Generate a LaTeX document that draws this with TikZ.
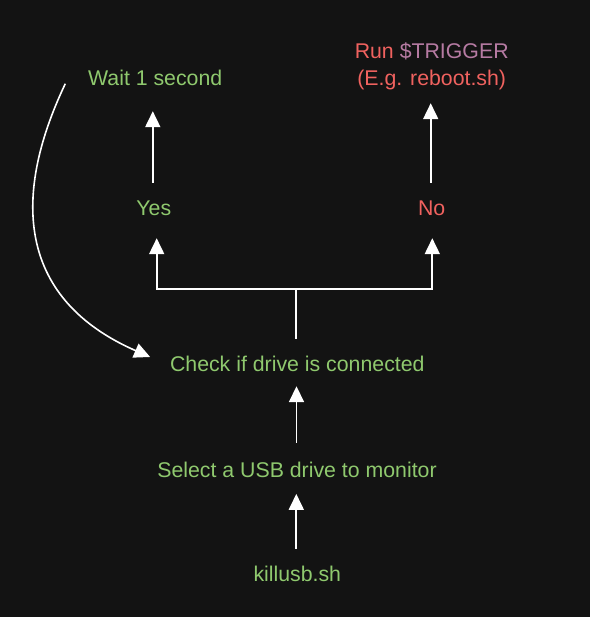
\documentclass[tikz,border=0pt]{standalone}
\usepackage{fontspec}
\setmainfont{Liberation Sans}
\usetikzlibrary{arrows.meta}
\definecolor{bg}{HTML}{131313}
\definecolor{tgreen}{HTML}{8FC96E}
\definecolor{tred}{HTML}{F0625F}
\definecolor{tpurple}{HTML}{B67BA3}
\begin{document}
\begin{tikzpicture}[x=1pt,y=-1pt,
  lbl/.style={inner sep=0pt, anchor=base, text height=15.5pt, text depth=4.5pt, font=\fontsize{21.3}{25}\selectfont},
  ok/.style={lbl,text=tgreen},
  bad/.style={lbl,text=tred},
  wire/.style={draw=white, line width=1.8pt},
  arr/.style={wire, -{Triangle[length=16pt,width=15pt]}}]
\fill[bg] (0,0) rectangle (590,617);
\useasboundingbox (0,0) rectangle (590,617);
\node[ok] (kill) at (297.3,581.2) {killusb.sh};
\node[ok] (sel) at (297,477) {Select a USB drive to monitor};
\node[ok] (check) at (297.3,371.5) {Check if drive is connected};
\node[ok] (yes) at (153.8,215.5) {Yes};
\node[bad] (no) at (431.7,215.5) {No};
\node[ok] (wait) at (155.2,85.5) {Wait 1 second};
\node[bad] (run) at (431.7,58.5) {Run \textcolor{tpurple}{\$TRIGGER}};
\node[bad] (eg) at (431.7,85.5) {(E.g. reboot.sh)};
\coordinate (split) at ([xshift=-1pt,yshift=67pt]check.north);
\draw[arr, shorten <=16.7pt, shorten >=12.2pt] ([xshift=-1pt]kill.north) -- ([xshift=-1pt]kill.north |- sel.south);
\draw[arr, shorten <=18.5pt, shorten >=10pt] ([xshift=-0.5pt]sel.north) -- ([xshift=-0.5pt]sel.north |- check.south);
\draw[wire, shorten <=17.3pt] ([xshift=-1pt]check.north) -- (split);
\draw[arr, shorten >=18pt] (split) -| ([xshift=2.9pt]yes.south);
\draw[arr, shorten >=18pt] (split) -| ([xshift=0.6pt]no.south);
\draw[arr, shorten <=17pt, shorten >=21pt] ([xshift=-1pt]yes.north) -- ([xshift=-1pt]yes.north |- wait.south);
\draw[arr, shorten <=17pt, shorten >=13pt] ([xshift=-1pt]no.north) -- ([xshift=-1pt]no.north |- eg.south);
\draw[arr, line width=1.6pt] ([xshift=-22.6pt,yshift=-3.7pt]wait.west) .. controls (10,200) and (20,300) .. ([xshift=-19.7pt,yshift=9pt]check.west);
\end{tikzpicture}
\end{document}
